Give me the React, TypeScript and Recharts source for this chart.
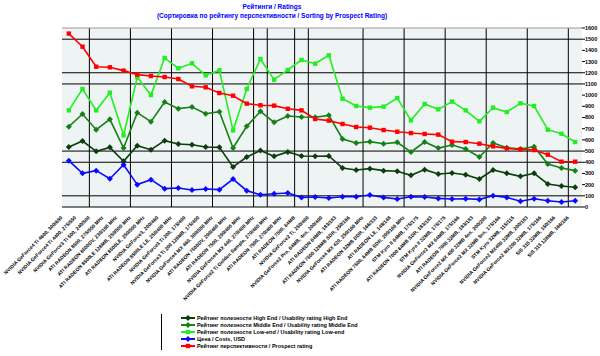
import { CartesianGrid, Legend, Line, LineChart, ReferenceLine, XAxis, YAxis } from "recharts";

const categories = [
  "NVIDIA GeForce4 Ti 4600, 300/650",
  "NVIDIA GeForce4 Ti 4400, 275/550",
  "NVIDIA GeForce3 Ti 500, 240/500",
  "ATI RADEON 8500, 275/550 MHz",
  "ATI RADEON 8500DV, 230/190 MHz",
  "ATI RADEON 8500LE 128MB, 250/500 MHz",
  "ATI RADEON 8500LE, 250/500 MHz",
  "NVIDIA GeForce3, 200/460",
  "ATI RADEON 8500LE LE, 250/400 MHz",
  "NVIDIA GeForce3 Ti 200, 175/400",
  "NVIDIA GeForce3 Ti 200 128MB, 175/400",
  "NVIDIA GeForce4 MX 460, 300/550 MHz",
  "ATI RADEON 7500DV, 290/460 MHz",
  "ATI RADEON 7500, 290/460 MHz",
  "NVIDIA GeForce4 MX 440, 270/400 MHz",
  "NVIDIA GeForce2 Ti Golden Sample, 270/460 MHz",
  "ATI RADEON 7500, 270/460 MHz",
  "ATI RADEON 7500, 64MB",
  "NVIDIA GeForce2 Ti, 250/400",
  "NVIDIA GeForce2 Pro, 64MB, 4ns, 200/400",
  "ATI RADEON 64MB, 183/183",
  "ATI RADEON 7500 128MB SDR, 250/166",
  "NVIDIA GeForce4 MX 420, 250/166 MHz",
  "ATI RADEON 32MB DDR, 166/333",
  "ATI RADEON LE, 148/148",
  "ATI RADEON 7500, 64MB SDR, 200/166 MHz",
  "STM Kyro II 64MB, 175/175",
  "ATI RADEON 7000 64MB SDR, 183/183",
  "STM Kyro II 32MB, 175/175",
  "NVIDIA GeForce2 MX 64MB, 175/166",
  "ATI RADEON 7000 32MB, 183/183",
  "NVIDIA GeForce2 MX 400 32MB 4ns, 200/200",
  "NVIDIA GeForce2 MX 32MB 5ns, 175/166",
  "STM Kyro 32MB, 115/115",
  "NVIDIA GeForce2 MX400 32MB, 200/183",
  "NVIDIA GeForce2 MX200 32MB, 175/166",
  "SiS 315 32MB, 150/166",
  "SiS 315 128MB, 166/166",
];

const highEnd = [536, 590, 498, 533, 408, 548, 512, 593, 563, 557, 536, 533, 358, 447, 504, 453, 492, 456, 453, 456, 349, 331, 343, 325, 319, 283, 334, 295, 304, 289, 250, 331, 301, 274, 301, 206, 188, 176];
const middleEnd = [718, 831, 691, 784, 527, 843, 763, 939, 879, 894, 834, 852, 527, 721, 855, 757, 813, 805, 802, 819, 608, 572, 584, 566, 578, 492, 581, 527, 554, 518, 447, 572, 530, 518, 539, 384, 349, 325];
const lowEnd = [864, 1055, 864, 1022, 641, 1159, 1001, 1332, 1240, 1284, 1177, 1222, 685, 1055, 1323, 1138, 1225, 1314, 1281, 1356, 968, 903, 888, 897, 974, 775, 921, 873, 942, 864, 766, 888, 849, 927, 903, 691, 655, 581];
const costs = [414, 301, 325, 253, 378, 200, 244, 164, 170, 152, 161, 155, 250, 146, 110, 119, 125, 86, 89, 80, 92, 92, 107, 86, 71, 92, 89, 77, 71, 74, 68, 101, 86, 51, 74, 56, 45, 56];
const prospect = [1550, 1433, 1254, 1249, 1219, 1183, 1171, 1162, 1144, 1079, 1070, 1019, 995, 924, 909, 906, 878, 864, 787, 772, 742, 715, 709, 688, 673, 661, 653, 647, 584, 581, 566, 542, 524, 515, 509, 468, 405, 405];

const yTicks = [0, 100, 200, 300, 400, 500, 600, 700, 800, 900, 1000, 1100, 1200, 1300, 1400, 1500, 1600];
// only some of the grid survives in the (downscaled) original
const gridValues = [100, 400, 500, 1100, 1200, 1500];
const gridBetween = [1.5, 4.5, 7.5, 10.5, 13.5, 14.5, 16.5, 17.5, 21.5, 24.5, 27.5, 30.5, 33.5, 36.5];

const series = [
  { key: "high", name: "Рейтинг полезности High End / Usability rating High End", color: "#0c3d0c", shape: "diamond" },
  { key: "middle", name: "Рейтинг полезности Middle End / Usability rating Middle End", color: "#168016", shape: "diamond" },
  { key: "low", name: "Рейтинг полезности Low-end / Usability rating Low-end", color: "#22ee22", shape: "square" },
  { key: "costs", name: "Цена / Costs, USD", color: "#0a0aff", shape: "diamond" },
  { key: "prospect", name: "Рейтинг перспективности / Prospect rating", color: "#ff0000", shape: "square" },
];

const data = categories.map((name, idx) => ({
  idx,
  name,
  high: highEnd[idx],
  middle: middleEnd[idx],
  low: lowEnd[idx],
  costs: costs[idx],
  prospect: prospect[idx],
}));

const font = "'Liberation Sans', Arial, sans-serif";

function markerShape(cx: number, cy: number, color: string, shape: string, key?: number) {
  if (shape === "diamond") {
    return <path key={key} d={`M${cx},${cy - 3}L${cx + 3},${cy}L${cx},${cy + 3}L${cx - 3},${cy}Z`} fill={color} />;
  }
  return <rect key={key} x={cx - 2.2} y={cy - 2.2} width={4.4} height={4.4} fill={color} />;
}

function makeDot(color: string, shape: string) {
  return (props: any) => {
    const { cx, cy, index } = props;
    if (cx == null || cy == null) return <g key={index} />;
    return markerShape(cx, cy, color, shape, index);
  };
}

function CategoryTick(props: any) {
  const { x, y, payload } = props;
  const ax = x - 6;
  const ay = y + 11;
  return (
    <text x={ax} y={ay} transform={`rotate(-45 ${ax} ${ay})`} textAnchor="end" fontSize={5} fontWeight="bold" fontFamily={font} fill="#000">
      {categories[payload.value]}
    </text>
  );
}

function renderLegend() {
  return (
    <svg width={220} height={38} style={{ display: "block" }}>
      <line x1={0.5} y1={0} x2={0.5} y2={36} stroke="#000" strokeWidth={1} />
      {series.map((s, i) => {
        const y = 4 + i * 7;
        return (
          <g key={s.key}>
            <line x1={20} y1={y} x2={34} y2={y} stroke={s.color} strokeWidth={2} />
            {markerShape(27, y, s.color, s.shape)}
            <text x={36} y={y + 2} fontSize={5.5} fontWeight="bold" fontFamily={font} fill="#000">
              {s.name}
            </text>
          </g>
        );
      })}
    </svg>
  );
}

export default function App() {
  return (
    <div style={{ position: "absolute", left: 0, top: 0, width: 600, height: 356, background: "#fff" }}>
      <LineChart width={600} height={356} data={data} margin={{ top: 28, right: 0, bottom: 0, left: 62 }}>
        <CartesianGrid horizontal={false} vertical={false} fill="#eef4f4" />
        {gridValues.map((v) => (
          <ReferenceLine key={`h${v}`} y={v} stroke="#000" strokeWidth={1} />
        ))}
        {gridBetween.map((v) => (
          <ReferenceLine key={`v${v}`} x={v} stroke="#000" strokeWidth={1} />
        ))}
        <ReferenceLine y={1600} stroke="#999" strokeWidth={1} />
        <XAxis
          type="number"
          dataKey="idx"
          domain={[-0.5, 37.5]}
          ticks={data.map((d) => d.idx)}
          interval={0}
          height={149}
          tickLine={false}
          tickSize={0}
          tickMargin={0}
          axisLine={{ stroke: "#000" }}
          tick={<CategoryTick />}
        />
        <YAxis
          orientation="right"
          width={18}
          domain={[0, 1600]}
          ticks={yTicks}
          interval={0}
          axisLine={false}
          tickLine={{ stroke: "#000" }}
          tickSize={3}
          tickMargin={0}
          tick={{ fontSize: 5.5, fontWeight: "bold", fontFamily: font, fill: "#000" }}
        />
        <Legend
          layout="vertical"
          align="center"
          verticalAlign="middle"
          content={renderLegend}
          wrapperStyle={{ position: "absolute", left: 161, top: 314, width: 220, height: 38 }}
        />
        {series.map((s) => (
          <Line
            key={s.key}
            dataKey={s.key}
            name={s.name}
            type="linear"
            stroke={s.color}
            strokeWidth={1.6}
            dot={makeDot(s.color, s.shape)}
            activeDot={false}
            isAnimationActive={false}
          />
        ))}
      </LineChart>
      <svg width={600} height={24} style={{ position: "absolute", left: 0, top: 0, pointerEvents: "none" }}>
        <text x={272} y={9} textAnchor="middle" fontSize={6.5} fontWeight="bold" fontFamily={font} fill="#0000ff">
          Рейтинги / Ratings
        </text>
        <text x={272} y={18} textAnchor="middle" fontSize={6.5} fontWeight="bold" fontFamily={font} fill="#0000ff">
          (Сортировка по рейтингу перспективности / Sorting by Prospect Rating)
        </text>
      </svg>
    </div>
  );
}
